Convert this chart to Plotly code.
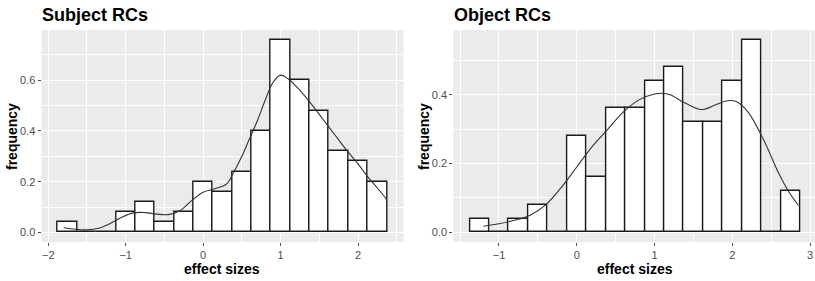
import plotly.graph_objects as go

BINWIDTH = 0.25
# Subject RCs histogram (bin centers, density)
subj_centers = [-1.75, -1.5, -1.25, -1.0, -0.75, -0.5, -0.25, 0.0, 0.25, 0.5, 0.75, 1.0, 1.25, 1.5, 1.75, 2.0, 2.25]
subj_freq = [0.04, 0.0, 0.0, 0.08, 0.12, 0.04, 0.08, 0.20, 0.16, 0.24, 0.40, 0.76, 0.60, 0.48, 0.32, 0.28, 0.20]
subj_dens_x = [-1.80, -1.65, -1.50, -1.35, -1.20, -1.05, -0.90, -0.75, -0.60, -0.45, -0.30, -0.15, 0.00, 0.15, 0.30,
               0.40, 0.50, 0.60, 0.70, 0.80, 0.90, 1.00, 1.10, 1.25, 1.40, 1.55, 1.70, 1.85, 2.00, 2.15, 2.25, 2.37]
subj_dens_y = [0.018, 0.012, 0.010, 0.016, 0.035, 0.060, 0.077, 0.078, 0.072, 0.070, 0.085, 0.125, 0.158, 0.172, 0.19,
               0.24, 0.30, 0.37, 0.44, 0.52, 0.59, 0.62, 0.605, 0.56, 0.505, 0.445, 0.385, 0.325, 0.27, 0.21, 0.175, 0.13]

# Object RCs histogram
obj_centers = [-1.25, -1.0, -0.75, -0.5, -0.25, 0.0, 0.25, 0.5, 0.75, 1.0, 1.25, 1.5, 1.75, 2.0, 2.25, 2.5, 2.75]
obj_freq = [0.04, 0.0, 0.04, 0.08, 0.0, 0.28, 0.16, 0.36, 0.36, 0.44, 0.48, 0.32, 0.32, 0.44, 0.56, 0.0, 0.12]
obj_dens_x = [-1.20, -1.0, -0.8, -0.6, -0.4, -0.2, 0.0, 0.2, 0.4, 0.6, 0.8, 1.0, 1.1, 1.2, 1.4, 1.6, 1.8,
              1.95, 2.05, 2.2, 2.4, 2.6, 2.72, 2.85]
obj_dens_y = [0.018, 0.025, 0.035, 0.05, 0.08, 0.13, 0.19, 0.25, 0.30, 0.35, 0.385, 0.402, 0.404, 0.40, 0.375, 0.357,
              0.372, 0.383, 0.38, 0.35, 0.27, 0.17, 0.12, 0.078]

titles = ["Subject RCs", "Object RCs"]
x_title = "effect sizes"
y_title = "frequency"

W, H = 815, 281
FONT = "Liberation Sans, Arial, sans-serif"

fig = go.Figure()

for i, (cx, fy, dx, dy) in enumerate([(subj_centers, subj_freq, subj_dens_x, subj_dens_y),
                                     (obj_centers, obj_freq, obj_dens_x, obj_dens_y)]):
    xa = "x" if i == 0 else "x2"
    ya = "y" if i == 0 else "y2"
    fig.add_trace(go.Bar(x=cx, y=fy, width=BINWIDTH, xaxis=xa, yaxis=ya,
                         marker=dict(color="white", line=dict(color="#1a1a1a", width=1.4)),
                         showlegend=False, hoverinfo="x+y"))
    fig.add_trace(go.Scatter(x=dx, y=dy, mode="lines", xaxis=xa, yaxis=ya,
                             line=dict(color="#333333", width=1.1, shape="spline", smoothing=1.0),
                             showlegend=False))

ydom = [39 / H, 251 / H]
common_axis = dict(showgrid=True, gridcolor="white", gridwidth=1.1, zeroline=False,
                   ticks="outside", ticklen=3, tickcolor="#4d4d4d", tickwidth=1,
                   tickfont=dict(family=FONT, size=11, color="#4d4d4d"), showline=False,
                   minor=dict(showgrid=True, gridcolor="white", gridwidth=0.5, ticks=""))

fig.update_layout(
    width=W, height=H, margin=dict(l=0, r=0, t=0, b=0),
    paper_bgcolor="white", plot_bgcolor="#EBEBEB", bargap=0,
    xaxis=dict(domain=[41.5 / W, 403.5 / W], range=[-2.0875, 2.5875], anchor="y",
               tickvals=[-2, -1, 0, 1, 2], minor_tickvals=[-1.5, -0.5, 0.5, 1.5, 2.5], **common_axis),
    yaxis=dict(domain=ydom, range=[-0.038, 0.798], anchor="x",
               tickvals=[0, 0.2, 0.4, 0.6], ticktext=["0.0", "0.2", "0.4", "0.6"],
               minor_tickvals=[0.1, 0.3, 0.5, 0.7], **common_axis),
    xaxis2=dict(domain=[453.3 / W, 1.0], range=[-1.5875, 3.063], anchor="y2",
                tickvals=[-1, 0, 1, 2, 3], minor_tickvals=[-1.5, -0.5, 0.5, 1.5, 2.5], **common_axis),
    yaxis2=dict(domain=ydom, range=[-0.028, 0.588], anchor="x2",
                tickvals=[0, 0.2, 0.4], ticktext=["0.0", "0.2", "0.4"],
                minor_tickvals=[0.1, 0.3, 0.5], **common_axis),
)

annots = []
for i, (tx, xt_x, ylab_x) in enumerate([(40, 222, 12), (452, 635, 424)]):
    annots.append(dict(text="<b>" + titles[i] + "</b>", x=tx / W, y=1 - 15 / H, xref="paper", yref="paper",
                       xanchor="left", yanchor="middle", showarrow=False,
                       font=dict(family=FONT, size=18, color="black")))
    annots.append(dict(text="<b>" + x_title + "</b>", x=xt_x / W, y=1 - 269 / H,
                       xref="paper", yref="paper", xanchor="center", yanchor="middle", showarrow=False,
                       font=dict(family=FONT, size=14, color="black")))
    annots.append(dict(text="<b>" + y_title + "</b>", x=ylab_x / W, y=1 - 137 / H, xref="paper", yref="paper",
                       xanchor="center", yanchor="middle", showarrow=False, textangle=-90,
                       font=dict(family=FONT, size=14, color="black")))
fig.update_layout(annotations=annots)

fig.write_html("out.html", config={"displayModeBar": False},
               post_script="document.body.style.margin='0';document.body.style.overflow='hidden';")
